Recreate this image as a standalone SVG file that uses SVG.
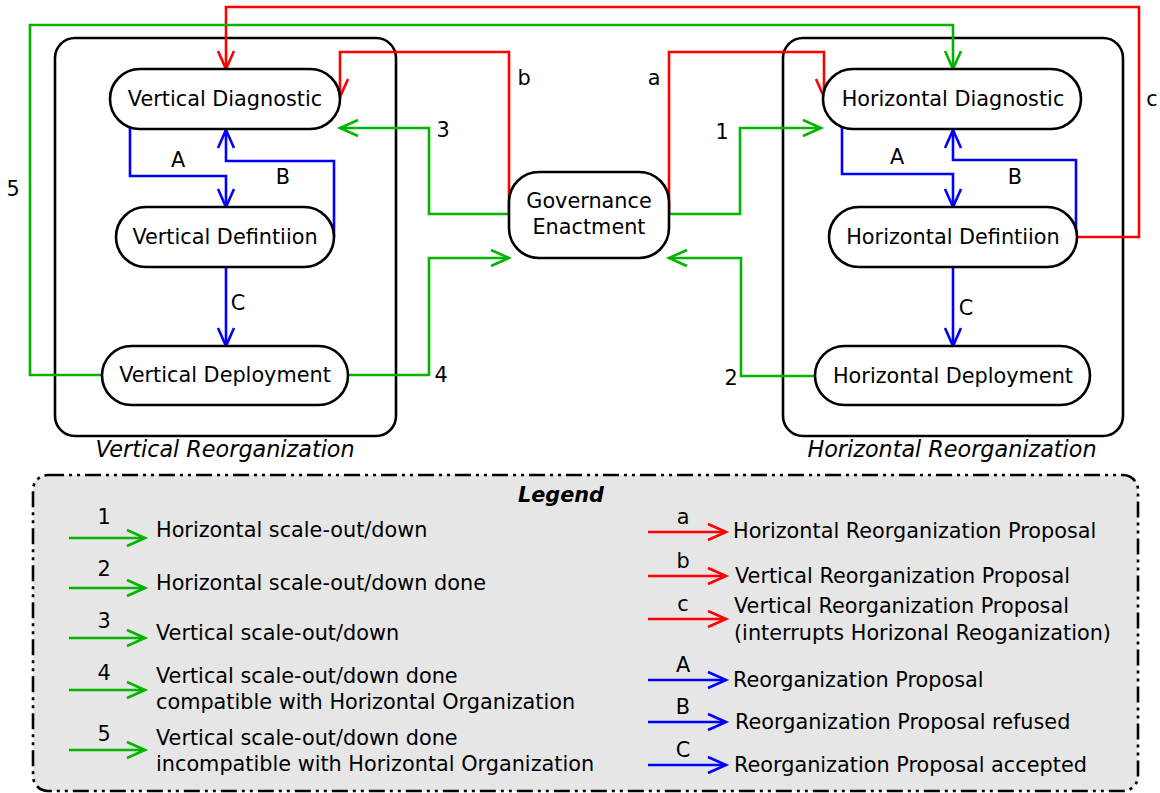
<svg xmlns="http://www.w3.org/2000/svg" width="1160" height="793" viewBox="0 0 1160 793">
<defs>
<style>
.box{fill:#fff;stroke:#000;stroke-width:2.6}
.cont{fill:none;stroke:#000;stroke-width:2.6}
.t{font-family:"DejaVu Sans",sans-serif;font-size:20.8px;fill:#000}
.m{text-anchor:middle}
.it{font-style:italic;font-size:22.3px}
.g{fill:none;stroke:#00b400;stroke-width:2.6}
.r{fill:none;stroke:#ff0000;stroke-width:2.6}
.b{fill:none;stroke:#0000ff;stroke-width:2.6}
</style>
<marker id="ag" markerUnits="userSpaceOnUse" markerWidth="24" markerHeight="24" viewBox="-20 -10 24 20" refX="0" refY="0" orient="auto"><path d="M-18,-8 L0,0 L-18,8" fill="none" stroke="#00b400" stroke-width="2.6"/></marker>
<marker id="ar" markerUnits="userSpaceOnUse" markerWidth="24" markerHeight="24" viewBox="-20 -10 24 20" refX="0" refY="0" orient="auto"><path d="M-18,-8 L0,0 L-18,8" fill="none" stroke="#ff0000" stroke-width="2.6"/></marker>
<marker id="ab" markerUnits="userSpaceOnUse" markerWidth="24" markerHeight="24" viewBox="-20 -10 24 20" refX="0" refY="0" orient="auto"><path d="M-18,-8 L0,0 L-18,8" fill="none" stroke="#0000ff" stroke-width="2.6"/></marker>
</defs>
<rect width="1160" height="793" fill="#fff"/>

<g id="vertical-reorganization">
<rect class="cont" x="55" y="38" width="341" height="398" rx="20"/>
<text class="t m it" x="225" y="457">Vertical Reorganization</text>
</g>
<g id="horizontal-reorganization">
<rect class="cont" x="783" y="38" width="340" height="398" rx="20"/>
<text class="t m it" x="952" y="457">Horizontal Reorganization</text>
</g>

<g id="connectors">
<!-- red -->
<polyline class="r" points="1077,237 1139,237 1139,7 226,7 226,69" marker-end="url(#ar)"/>
<polyline class="r" points="509,214 509,52 340,52 340,97" marker-end="url(#ar)"/>
<polyline class="r" points="669,214 669,52 824,52 824,97" marker-end="url(#ar)"/>
<!-- green -->
<polyline class="g" points="509,214 429,214 429,128 340,128" marker-end="url(#ag)"/>
<polyline class="g" points="669,214 740,214 740,128 821,128" marker-end="url(#ag)"/>
<polyline class="g" points="348,375 429,375 429,258 509,258" marker-end="url(#ag)"/>
<polyline class="g" points="815,376 741,376 741,258 669,258" marker-end="url(#ag)"/>
<polyline class="g" points="102,375 30,375 30,25 953,25 953,69" marker-end="url(#ag)"/>
<!-- blue -->
<polyline class="b" points="130,126 130,176 226,176 226,207" marker-end="url(#ab)"/>
<polyline class="b" points="334,237 334,161 226,161 226,130" marker-end="url(#ab)"/>
<polyline class="b" points="226,267 226,346" marker-end="url(#ab)"/>
<polyline class="b" points="842,124 842,174 953,174 953,207" marker-end="url(#ab)"/>
<polyline class="b" points="1076,237 1076,160 953,160 953,130" marker-end="url(#ab)"/>
<polyline class="b" points="953,267 953,346" marker-end="url(#ab)"/>
<!-- labels -->
<text class="t m" x="1152" y="106">c</text>
<text class="t m" x="524" y="85">b</text>
<text class="t m" x="654" y="85">a</text>
<text class="t m" x="443" y="137">3</text>
<text class="t m" x="722" y="139">1</text>
<text class="t m" x="441" y="382">4</text>
<text class="t m" x="731" y="385">2</text>
<text class="t m" x="13" y="196">5</text>
<text class="t m" x="178" y="167">A</text>
<text class="t m" x="283" y="184">B</text>
<text class="t m" x="238" y="310">C</text>
<text class="t m" x="897" y="164">A</text>
<text class="t m" x="1015" y="184">B</text>
<text class="t m" x="966" y="315">C</text>
</g>

<g id="vertical-diagnostic">
<rect class="box" x="110" y="69" width="230" height="60" rx="30"/>
<text class="t m" x="225" y="106">Vertical Diagnostic</text>
</g>
<g id="vertical-definition">
<rect class="box" x="116" y="207" width="218" height="60" rx="30"/>
<text class="t m" x="225" y="244">Vertical Defintiion</text>
</g>
<g id="vertical-deployment">
<rect class="box" x="102" y="346" width="246" height="59" rx="29.5"/>
<text class="t m" x="225" y="382">Vertical Deployment</text>
</g>
<g id="governance-enactment">
<rect class="box" x="509" y="172" width="160" height="86" rx="30"/>
<text class="t m" x="589" y="208">Governance</text>
<text class="t m" x="589" y="234">Enactment</text>
</g>
<g id="horizontal-diagnostic">
<rect class="box" x="823" y="69" width="258" height="60" rx="30"/>
<text class="t m" x="953" y="106">Horizontal Diagnostic</text>
</g>
<g id="horizontal-definition">
<rect class="box" x="829" y="207" width="248" height="60" rx="30"/>
<text class="t m" x="953" y="244">Horizontal Defintiion</text>
</g>
<g id="horizontal-deployment">
<rect class="box" x="815" y="346" width="275" height="59" rx="29.5"/>
<text class="t m" x="953" y="383">Horizontal Deployment</text>
</g>

<g id="legend">
<rect x="33" y="475" width="1105" height="316" rx="15" fill="#e6e6e6" stroke="#000" stroke-width="2.6" stroke-dasharray="16 5 3 5 3 5"/>
<text class="t m" x="561" y="502" font-weight="bold" font-style="italic" font-size="22.3px">Legend</text>
<g>
<line class="g" x1="69" y1="538" x2="145" y2="538" marker-end="url(#ag)"/>
<text class="t m" x="104" y="524">1</text>
<text class="t" x="156" y="537">Horizontal scale-out/down</text>
<line class="g" x1="69" y1="588" x2="145" y2="588" marker-end="url(#ag)"/>
<text class="t m" x="104" y="576">2</text>
<text class="t" x="156" y="590">Horizontal scale-out/down done</text>
<line class="g" x1="69" y1="638" x2="145" y2="638" marker-end="url(#ag)"/>
<text class="t m" x="104" y="628">3</text>
<text class="t" x="156" y="640">Vertical scale-out/down</text>
<line class="g" x1="69" y1="690" x2="145" y2="690" marker-end="url(#ag)"/>
<text class="t m" x="104" y="680">4</text>
<text class="t" x="156" y="683">Vertical scale-out/down done</text>
<text class="t" x="156" y="709">compatible with Horizontal Organization</text>
<line class="g" x1="69" y1="750" x2="145" y2="750" marker-end="url(#ag)"/>
<text class="t m" x="104" y="741">5</text>
<text class="t" x="156" y="745">Vertical scale-out/down done</text>
<text class="t" x="156" y="771">incompatible with Horizontal Organization</text>
</g>
<g>
<line class="r" x1="648" y1="532" x2="726" y2="532" marker-end="url(#ar)"/>
<text class="t m" x="683" y="524">a</text>
<text class="t" x="733" y="538">Horizontal Reorganization Proposal</text>
<line class="r" x1="648" y1="576" x2="726" y2="576" marker-end="url(#ar)"/>
<text class="t m" x="683" y="568">b</text>
<text class="t" x="735" y="583">Vertical Reorganization Proposal</text>
<line class="r" x1="648" y1="619" x2="726" y2="619" marker-end="url(#ar)"/>
<text class="t m" x="683" y="611">c</text>
<text class="t" x="734" y="613">Vertical Reorganization Proposal</text>
<text class="t" x="734" y="640">(interrupts Horizonal Reoganization)</text>
<line class="b" x1="648" y1="680" x2="726" y2="680" marker-end="url(#ab)"/>
<text class="t m" x="683" y="672">A</text>
<text class="t" x="733" y="687">Reorganization Proposal</text>
<line class="b" x1="648" y1="722" x2="726" y2="722" marker-end="url(#ab)"/>
<text class="t m" x="683" y="714">B</text>
<text class="t" x="735" y="729">Reorganization Proposal refused</text>
<line class="b" x1="648" y1="765" x2="726" y2="765" marker-end="url(#ab)"/>
<text class="t m" x="683" y="757">C</text>
<text class="t" x="734" y="772">Reorganization Proposal accepted</text>
</g>
</g>
</svg>
